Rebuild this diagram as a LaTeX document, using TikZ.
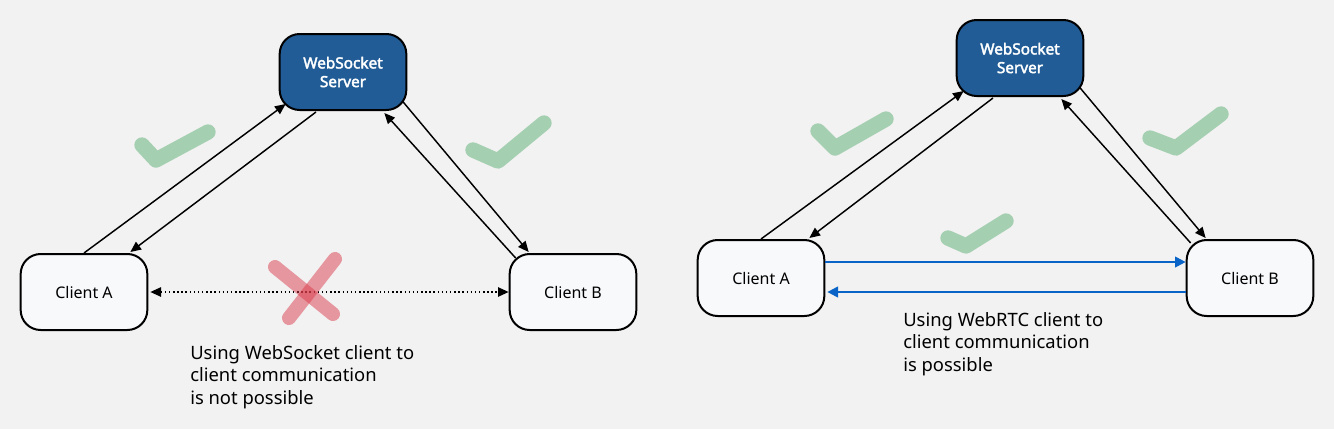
\documentclass[tikz,border=0pt]{standalone}
\usepackage{fontspec}
\setmainfont{Noto Sans}
\newfontfamily\serverfont{Noto Sans}[FakeBold=2.5]
\usetikzlibrary{arrows.meta,calc}

\definecolor{bggray}{HTML}{F2F2F2}
\definecolor{serverblue}{HTML}{215C96}
\definecolor{clientwhite}{HTML}{F8F9FB}
\definecolor{rtcblue}{HTML}{0A64C8}
\definecolor{checkgreen}{HTML}{A5CFB1}
\definecolor{crossred}{HTML}{DC3C4B}

\tikzset{
  client/.style={draw=black,fill=clientwhite,line width=1.5pt,rounded corners=15pt,
    minimum width=95pt,minimum height=57pt,font=\fontsize{12}{14}\selectfont},
  server/.style={client,fill=serverblue,text=white,align=center,
    font=\serverfont\fontsize{11.5}{14}\selectfont},
  link/.style={draw=black,line width=1.1pt,-{Triangle[length=8pt,width=7pt]}},
  rtc/.style={draw=rtcblue,line width=1.5pt,-{Triangle[length=8pt,width=8pt]}},
  check/.style={draw=checkgreen,line width=11.5pt,line cap=round,line join=round},
  cross/.style={draw=crossred,opacity=0.5,line width=10.5pt,line cap=round},
  caption/.style={align=left,anchor=north west,inner sep=0pt,
    font=\fontsize{13.8}{16.9}\selectfont}
}

\begin{document}
\begin{tikzpicture}[x=0.75pt,y=-0.75pt]

% Background
\fill[bggray] (0,0) rectangle (1334,429);
\useasboundingbox (0,0) rectangle (1334,429);

% Left: WebSocket only
\node[server] (serverL) at (343,72) {WebSocket\\Server};
\node[client] (clientAL) at (84,292) {Client A};
\node[client] (clientBL) at (573,292) {Client B};

\draw[link] (clientAL.north) -- ($(serverL.south west)+(7,-7)$);
\draw[link] ($(serverL.south)+(-27,1)$) -- ($(clientAL.north east)+(-18,-1)$);
\draw[link] ($(serverL.south east)+(-5,-10)$) -- ($(clientBL.north west)+(20,-1)$);
\draw[link] ($(clientBL.north west)+(7,5)$) -- ($(serverL.south east)+(-23,2)$);
\draw[link,dotted,{Triangle[length=8pt,width=7pt]}-{Triangle[length=8pt,width=7pt]}] ($(clientAL.east)+(2,0)$) -- (clientBL.west);

\draw[check] (142,145) -- (156,160) -- (208,132);
\draw[check] (473,150) -- (498,161) -- (544,123);
\draw[cross] (275,267) -- (333,314);
\draw[cross] (335,259) -- (289,318);

\node[caption] (textL) at (190,345) {Using WebSocket client to\\client communication\\is not possible};

% Right: WebRTC between clients
\node[server] (serverR) at (1020,58) {WebSocket\\Server};
\node[client] (clientAR) at (761,278) {Client A};
\node[client] (clientBR) at (1250,278) {Client B};

\draw[link] (clientAR.north) -- ($(serverR.south west)+(8,-6)$);
\draw[link] ($(serverR.south)+(-27,1)$) -- ($(clientAR.north east)+(-16,-1)$);
\draw[link] ($(serverR.south east)+(-5,-10)$) -- ($(clientBR.north west)+(20,-1)$);
\draw[link] ($(clientBR.north west)+(5,4)$) -- ($(serverR.south east)+(-23,2)$);
\draw[rtc] ($(clientAR.east)+(0,-16)$) -- ($(clientBR.west)+(0,-16)$);
\draw[rtc] ($(clientBR.west)+(0,14)$) -- ($(clientAR.east)+(2,14)$);

\draw[check] (818,131) -- (835,148) -- (886,119);
\draw[check] (1150,138) -- (1176,148) -- (1221,114);
\draw[check] (948,238) -- (966,246) -- (1006,221);

\node[caption] (textR) at (903,312) {Using WebRTC client to\\client communication\\is possible};

\end{tikzpicture}
\end{document}
